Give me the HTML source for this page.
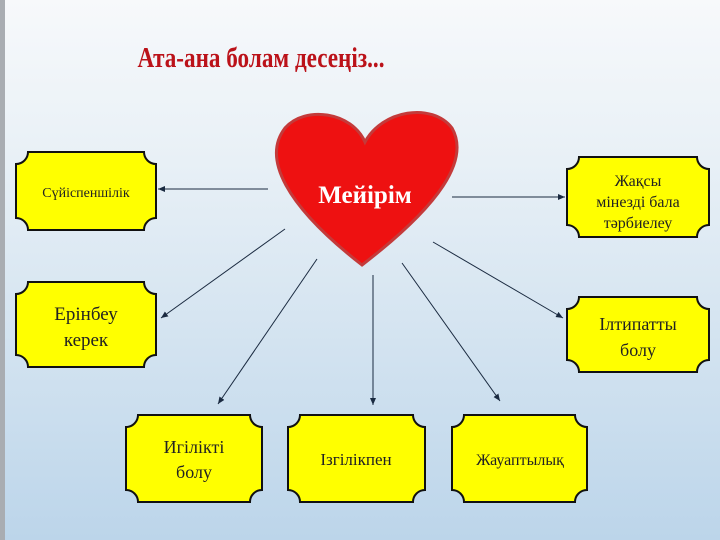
<!DOCTYPE html>
<html><head><meta charset="utf-8"><style>
html,body{margin:0;padding:0;width:720px;height:540px;overflow:hidden}
</style></head><body>
<svg width="720" height="540" viewBox="0 0 720 540" xmlns="http://www.w3.org/2000/svg">
<defs>
<linearGradient id="bg" x1="0" y1="0" x2="0" y2="1">
<stop offset="0" stop-color="#f7f9fb"/>
<stop offset="0.3" stop-color="#e8f0f6"/>
<stop offset="1" stop-color="#bcd5ea"/>
</linearGradient>
<marker id="ar" markerWidth="8" markerHeight="8" refX="7" refY="4" orient="auto" markerUnits="userSpaceOnUse">
<path d="M0,1 L7,4 L0,7Z" fill="#1a2a40"/>
</marker>
</defs>
<rect width="720" height="540" fill="url(#bg)"/>
<rect x="0" y="0" width="5" height="540" fill="#a9adb2"/>
<text x="261" y="67" text-anchor="middle" font-family="Liberation Serif, serif" font-weight="bold" font-size="29" fill="#bb1219" textLength="247" lengthAdjust="spacingAndGlyphs">Ата-ана болам десеңіз...</text>

<g stroke="#1a2a40" stroke-width="1" fill="none" marker-end="url(#ar)">
<line x1="268" y1="189" x2="158" y2="189"/>
<line x1="285" y1="229" x2="161" y2="318"/>
<line x1="317" y1="259" x2="218" y2="404"/>
<line x1="373" y1="275" x2="373" y2="405"/>
<line x1="452" y1="197" x2="565" y2="197"/>
<line x1="433" y1="242" x2="563" y2="318"/>
<line x1="402" y1="263" x2="500" y2="401"/>
</g>

<path d="M365,142 C352,112 305,105 285,128 C262,158 285,205 362,265 C440,205 470,160 452,128 C432,102 382,110 365,142Z" fill="#ee1111" stroke="#c43a3a" stroke-width="3"/>
<text x="365" y="203" text-anchor="middle" font-family="Liberation Serif, serif" font-weight="bold" font-size="25" fill="#fff">Мейірім</text>

<g fill="#ffff00" stroke="#111" stroke-width="2">
<path d="M28,152 L144,152 A12,12 0 0 0 156,164 L156,218 A12,12 0 0 0 144,230 L28,230 A12,12 0 0 0 16,218 L16,164 A12,12 0 0 0 28,152Z"/>
<path d="M28,282 L144,282 A12,12 0 0 0 156,294 L156,355 A12,12 0 0 0 144,367 L28,367 A12,12 0 0 0 16,355 L16,294 A12,12 0 0 0 28,282Z"/>
<path d="M579,157 L697,157 A12,12 0 0 0 709,169 L709,225 A12,12 0 0 0 697,237 L579,237 A12,12 0 0 0 567,225 L567,169 A12,12 0 0 0 579,157Z"/>
<path d="M579,297 L697,297 A12,12 0 0 0 709,309 L709,360 A12,12 0 0 0 697,372 L579,372 A12,12 0 0 0 567,360 L567,309 A12,12 0 0 0 579,297Z"/>
<path d="M138,415 L250,415 A12,12 0 0 0 262,427 L262,490 A12,12 0 0 0 250,502 L138,502 A12,12 0 0 0 126,490 L126,427 A12,12 0 0 0 138,415Z"/>
<path d="M300,415 L413,415 A12,12 0 0 0 425,427 L425,490 A12,12 0 0 0 413,502 L300,502 A12,12 0 0 0 288,490 L288,427 A12,12 0 0 0 300,415Z"/>
<path d="M464,415 L575,415 A12,12 0 0 0 587,427 L587,490 A12,12 0 0 0 575,502 L464,502 A12,12 0 0 0 452,490 L452,427 A12,12 0 0 0 464,415Z"/>
</g>

<g font-family="Liberation Serif, serif" fill="#222" text-anchor="middle">
<text x="86" y="197" font-size="14">Сүйіспеншілік</text>
<text x="86" y="320" font-size="19">Ерінбеу</text>
<text x="86" y="346" font-size="19">керек</text>
<text x="638" y="186" font-size="16">Жақсы</text>
<text x="638" y="207" font-size="16">мінезді бала</text>
<text x="638" y="228" font-size="16">тәрбиелеу</text>
<text x="638" y="330" font-size="18">Ілтипатты</text>
<text x="638" y="356" font-size="18">болу</text>
<text x="194" y="453" font-size="18">Игілікті</text>
<text x="194" y="478" font-size="18">болу</text>
<text x="356" y="465" font-size="17">Ізгілікпен</text>
<text x="520" y="465" font-size="16">Жауаптылық</text>
</g>
</svg>
</body></html>
